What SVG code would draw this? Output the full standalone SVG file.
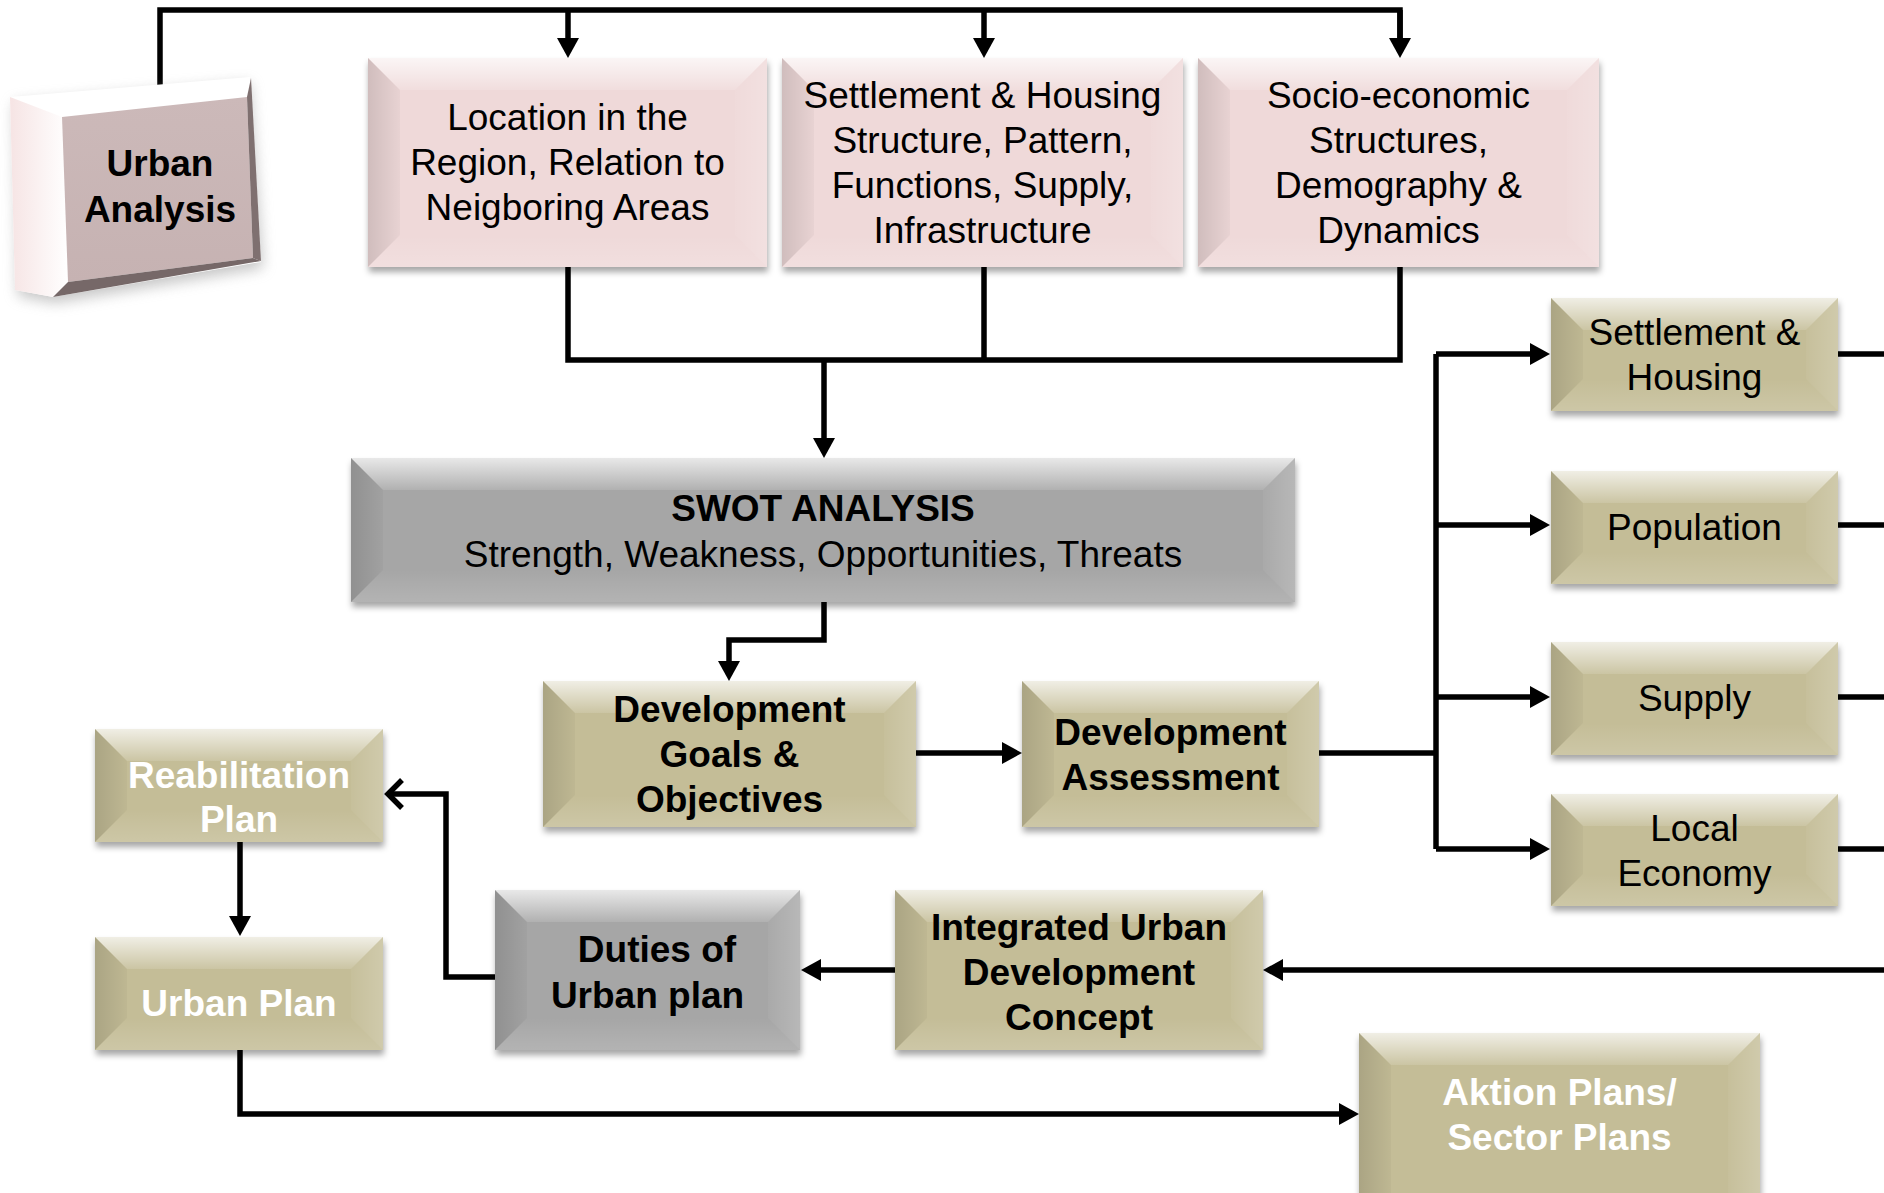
<svg xmlns="http://www.w3.org/2000/svg" width="1884" height="1193" viewBox="0 0 1884 1193">
<defs>
<style>
.t{font-family:"Liberation Sans",Arial,sans-serif;font-size:37px;text-anchor:middle;fill:#000}
.b{font-weight:bold}
.w{fill:#fff}
.pink{fill:#efd9d9}
.tan{fill:#c4bd97}
.gray{fill:#a6a6a6}
.bt{fill:url(#gT)}
.bl{fill:url(#gL)}
.br{fill:url(#gR)}
.bb{fill:url(#gB)}
.c{fill:none;stroke:#000;stroke-width:5.5}
.a{marker-end:url(#ah)}
</style>
<linearGradient id="gT" x1="0" y1="0" x2="0" y2="1"><stop offset="0" stop-color="#fff" stop-opacity=".75"/><stop offset="1" stop-color="#fff" stop-opacity=".12"/></linearGradient>
<linearGradient id="gL" x1="0" y1="0" x2="1" y2="0"><stop offset="0" stop-color="#000" stop-opacity=".13"/><stop offset="1" stop-color="#000" stop-opacity=".03"/></linearGradient>
<linearGradient id="gR" x1="0" y1="0" x2="1" y2="0"><stop offset="0" stop-color="#fff" stop-opacity=".04"/><stop offset="1" stop-color="#fff" stop-opacity=".2"/></linearGradient>
<linearGradient id="gB" x1="0" y1="0" x2="0" y2="1"><stop offset="0" stop-color="#fff" stop-opacity="0"/><stop offset="1" stop-color="#fff" stop-opacity=".15"/></linearGradient>
<linearGradient id="gUL" x1="0" y1="0" x2="1" y2="0"><stop offset="0" stop-color="#f6e4e4"/><stop offset="1" stop-color="#fff"/></linearGradient>
<linearGradient id="gUF" x1="0" y1="0" x2="0" y2="1"><stop offset="0" stop-color="#ccb9b9"/><stop offset="1" stop-color="#c6b2b2"/></linearGradient>
<filter id="sh" x="-5%" y="-10%" width="110%" height="130%"><feDropShadow dx="1" dy="5" stdDeviation="3" flood-color="#000" flood-opacity=".35"/></filter>
<filter id="blur" x="-20%" y="-20%" width="140%" height="140%"><feGaussianBlur stdDeviation="7"/></filter>
<marker id="ah" markerUnits="userSpaceOnUse" markerWidth="20" markerHeight="22" refX="0" refY="11" orient="auto" overflow="visible"><path d="M0,0 L20,11 L0,22 Z" fill="#000"/></marker>
</defs>
<rect width="1884" height="1193" fill="#fff"/>

<g id="connectors">
<path class="c" d="M160,90 V10 H1400 V38"/>
<path class="c a" d="M1400,10 V38"/>
<path class="c a" d="M568,10 V38"/>
<path class="c a" d="M984,10 V38"/>
<path class="c" d="M568,267 V360 H1400 V267"/>
<path class="c" d="M984,267 V360"/>
<path class="c a" d="M824,360 V438"/>
<path class="c a" d="M824,602 V640 H729 V661"/>
<path class="c a" d="M916,753 H1002"/>
<path class="c" d="M1319,753 H1436"/>
<path class="c" d="M1436,354 V849"/>
<path class="c a" d="M1436,354 H1530"/>
<path class="c a" d="M1436,525 H1530"/>
<path class="c a" d="M1436,697 H1530"/>
<path class="c a" d="M1436,849 H1530"/>
<path class="c" d="M1838,354 H1884 M1838,525 H1884 M1838,697 H1884 M1838,849 H1884"/>
<path class="c a" d="M1884,970 H1283"/>
<path class="c a" d="M895,970 H821"/>
<path class="c" d="M495,977 H446 V794 H388"/>
<path class="c" d="M402,780 L388,794 L402,808" stroke-linejoin="miter"/>
<path class="c a" d="M240,842 V916"/>
<path class="c a" d="M240,1050 V1114 H1339"/>
</g>

<g id="urban-analysis">
<polygon points="14,103 250,83 263,268 55,303 18,296" fill="#999" opacity=".55" filter="url(#blur)"/>
<polygon points="10,97 250,77 261,262 53,297 15,290" fill="#fff"/>
<polygon points="10,97 62,117 68,282 53,297 15,290" fill="url(#gUL)"/>
<polygon points="62,117 247,97 253,258 68,282" fill="url(#gUF)"/>
<polygon points="247,97 251,78 261,261 253,258" fill="#7f7070"/>
<polygon points="253,258 261,261 53,297 68,282" fill="#766868"/>
<text class="t b" x="160" y="176">Urban</text>
<text class="t b" x="160" y="222">Analysis</text>
</g>

<g id="location">
<rect class="pink" x="368" y="58" width="399" height="209" filter="url(#sh)"/>
<polygon class="bt" points="368,58 767,58 735,90 400,90"/>
<polygon class="bl" points="368,58 400,90 400,235 368,267"/>
<polygon class="br" points="767,58 767,267 735,235 735,90"/>
<polygon class="bb" points="368,267 400,235 735,235 767,267"/>
<text class="t" x="567.5" y="130">Location in the</text>
<text class="t" x="567.5" y="175">Region, Relation to</text>
<text class="t" x="567.5" y="220">Neigboring Areas</text>
</g>

<g id="settlement-housing-structure">
<rect class="pink" x="782" y="58" width="401" height="209" filter="url(#sh)"/>
<polygon class="bt" points="782,58 1183,58 1151,90 814,90"/>
<polygon class="bl" points="782,58 814,90 814,235 782,267"/>
<polygon class="br" points="1183,58 1183,267 1151,235 1151,90"/>
<polygon class="bb" points="782,267 814,235 1151,235 1183,267"/>
<text class="t" x="982.5" y="108">Settlement &amp; Housing</text>
<text class="t" x="982.5" y="153">Structure, Pattern,</text>
<text class="t" x="982.5" y="198">Functions, Supply,</text>
<text class="t" x="982.5" y="243">Infrastructure</text>
</g>

<g id="socio-economic">
<rect class="pink" x="1198" y="58" width="401" height="209" filter="url(#sh)"/>
<polygon class="bt" points="1198,58 1599,58 1567,90 1230,90"/>
<polygon class="bl" points="1198,58 1230,90 1230,235 1198,267"/>
<polygon class="br" points="1599,58 1599,267 1567,235 1567,90"/>
<polygon class="bb" points="1198,267 1230,235 1567,235 1599,267"/>
<text class="t" x="1398.5" y="108">Socio-economic</text>
<text class="t" x="1398.5" y="153">Structures,</text>
<text class="t" x="1398.5" y="198">Demography &amp;</text>
<text class="t" x="1398.5" y="243">Dynamics</text>
</g>

<g id="swot">
<rect class="gray" x="351" y="458" width="944" height="144" filter="url(#sh)"/>
<polygon class="bt" points="351,458 1295,458 1263,490 383,490"/>
<polygon class="bl" points="351,458 383,490 383,570 351,602"/>
<polygon class="br" points="1295,458 1295,602 1263,570 1263,490"/>
<polygon class="bb" points="351,602 383,570 1263,570 1295,602"/>
<text class="t b" x="823" y="521">SWOT ANALYSIS</text>
<text class="t" x="823" y="567">Strength, Weakness, Opportunities, Threats</text>
</g>

<g id="development-goals">
<rect class="tan" x="543" y="681" width="373" height="146" filter="url(#sh)"/>
<polygon class="bt" points="543,681 916,681 884,713 575,713"/>
<polygon class="bl" points="543,681 575,713 575,795 543,827"/>
<polygon class="br" points="916,681 916,827 884,795 884,713"/>
<polygon class="bb" points="543,827 575,795 884,795 916,827"/>
<text class="t b" x="729.5" y="722">Development</text>
<text class="t b" x="729.5" y="767">Goals &amp;</text>
<text class="t b" x="729.5" y="812">Objectives</text>
</g>

<g id="development-assessment">
<rect class="tan" x="1022" y="681" width="297" height="146" filter="url(#sh)"/>
<polygon class="bt" points="1022,681 1319,681 1287,713 1054,713"/>
<polygon class="bl" points="1022,681 1054,713 1054,795 1022,827"/>
<polygon class="br" points="1319,681 1319,827 1287,795 1287,713"/>
<polygon class="bb" points="1022,827 1054,795 1287,795 1319,827"/>
<text class="t b" x="1170.5" y="745">Development</text>
<text class="t b" x="1170.5" y="790">Assessment</text>
</g>

<g id="settlement-housing">
<rect class="tan" x="1551" y="298" width="287" height="113" filter="url(#sh)"/>
<polygon class="bt" points="1551,298 1838,298 1806,330 1583,330"/>
<polygon class="bl" points="1551,298 1583,330 1583,379 1551,411"/>
<polygon class="br" points="1838,298 1838,411 1806,379 1806,330"/>
<polygon class="bb" points="1551,411 1583,379 1806,379 1838,411"/>
<text class="t" x="1694.5" y="345">Settlement &amp;</text>
<text class="t" x="1694.5" y="390">Housing</text>
</g>

<g id="population">
<rect class="tan" x="1551" y="471" width="287" height="113" filter="url(#sh)"/>
<polygon class="bt" points="1551,471 1838,471 1806,503 1583,503"/>
<polygon class="bl" points="1551,471 1583,503 1583,552 1551,584"/>
<polygon class="br" points="1838,471 1838,584 1806,552 1806,503"/>
<polygon class="bb" points="1551,584 1583,552 1806,552 1838,584"/>
<text class="t" x="1694.5" y="540">Population</text>
</g>

<g id="supply">
<rect class="tan" x="1551" y="642" width="287" height="113" filter="url(#sh)"/>
<polygon class="bt" points="1551,642 1838,642 1806,674 1583,674"/>
<polygon class="bl" points="1551,642 1583,674 1583,723 1551,755"/>
<polygon class="br" points="1838,642 1838,755 1806,723 1806,674"/>
<polygon class="bb" points="1551,755 1583,723 1806,723 1838,755"/>
<text class="t" x="1694.5" y="711">Supply</text>
</g>

<g id="local-economy">
<rect class="tan" x="1551" y="794" width="287" height="112" filter="url(#sh)"/>
<polygon class="bt" points="1551,794 1838,794 1806,826 1583,826"/>
<polygon class="bl" points="1551,794 1583,826 1583,874 1551,906"/>
<polygon class="br" points="1838,794 1838,906 1806,874 1806,826"/>
<polygon class="bb" points="1551,906 1583,874 1806,874 1838,906"/>
<text class="t" x="1694.5" y="841">Local</text>
<text class="t" x="1694.5" y="886">Economy</text>
</g>

<g id="integrated-concept">
<rect class="tan" x="895" y="890" width="368" height="160" filter="url(#sh)"/>
<polygon class="bt" points="895,890 1263,890 1231,922 927,922"/>
<polygon class="bl" points="895,890 927,922 927,1018 895,1050"/>
<polygon class="br" points="1263,890 1263,1050 1231,1018 1231,922"/>
<polygon class="bb" points="895,1050 927,1018 1231,1018 1263,1050"/>
<text class="t b" x="1079" y="940">Integrated Urban</text>
<text class="t b" x="1079" y="985">Development</text>
<text class="t b" x="1079" y="1030">Concept</text>
</g>

<g id="duties">
<rect class="gray" x="495" y="890" width="305" height="160" filter="url(#sh)"/>
<polygon class="bt" points="495,890 800,890 768,922 527,922"/>
<polygon class="bl" points="495,890 527,922 527,1018 495,1050"/>
<polygon class="br" points="800,890 800,1050 768,1018 768,922"/>
<polygon class="bb" points="495,1050 527,1018 768,1018 800,1050"/>
<text class="t b" x="657" y="962">Duties of</text>
<text class="t b" x="647.5" y="1008">Urban plan</text>
</g>

<g id="rehabilitation-plan">
<rect class="tan" x="95" y="729" width="288" height="113" filter="url(#sh)"/>
<polygon class="bt" points="95,729 383,729 351,761 127,761"/>
<polygon class="bl" points="95,729 127,761 127,810 95,842"/>
<polygon class="br" points="383,729 383,842 351,810 351,761"/>
<polygon class="bb" points="95,842 127,810 351,810 383,842"/>
<text class="t b w" x="239" y="788">Reabilitation</text>
<text class="t b w" x="239" y="832">Plan</text>
</g>

<g id="urban-plan">
<rect class="tan" x="95" y="937" width="288" height="113" filter="url(#sh)"/>
<polygon class="bt" points="95,937 383,937 351,969 127,969"/>
<polygon class="bl" points="95,937 127,969 127,1018 95,1050"/>
<polygon class="br" points="383,937 383,1050 351,1018 351,969"/>
<polygon class="bb" points="95,1050 127,1018 351,1018 383,1050"/>
<text class="t b w" x="239" y="1016">Urban Plan</text>
</g>

<g id="action-plans">
<rect class="tan" x="1359" y="1033" width="401" height="200" filter="url(#sh)"/>
<polygon class="bt" points="1359,1033 1760,1033 1728,1065 1391,1065"/>
<polygon class="bl" points="1359,1033 1391,1065 1391,1201 1359,1233"/>
<polygon class="br" points="1760,1033 1760,1233 1728,1201 1728,1065"/>
<text class="t b w" x="1559.5" y="1105">Aktion Plans/</text>
<text class="t b w" x="1559.5" y="1150">Sector Plans</text>
</g>
</svg>
